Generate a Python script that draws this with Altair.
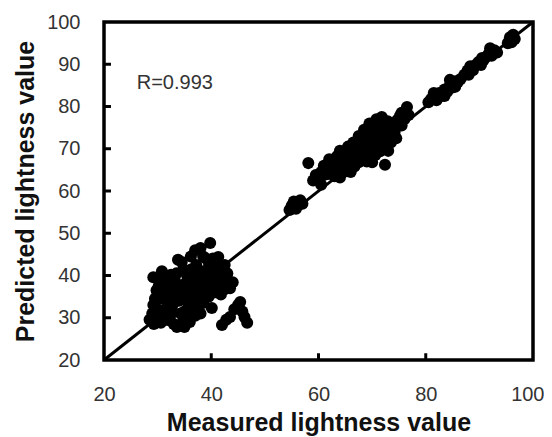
import altair as alt
import pandas as pd

# Lower cluster (measured, predicted)
low_x = [28.5, 29, 29.3, 29.8, 29.2, 30, 29.2, 30.5, 31, 31.5, 30.8, 31.2, 30.6, 31.8, 32.2, 32.5,
         32.8, 33, 33.6, 33.2, 33.8, 33.5, 34, 34.3, 34.5, 34.8, 35, 35.3, 35.5, 35.8, 36, 36.3,
         36.5, 36.8, 37, 37.2, 37.5, 37.8, 38, 38.2, 38.5, 38.8, 39, 39.3, 39.8, 39.6, 40, 40.1,
         40.3, 40.5, 40.8, 41, 41.3, 41.5, 41.8, 42, 42.3, 42.6, 43, 43.5, 44, 42, 42.8, 43.5,
         44.3, 45, 45.4, 45.8, 46.2, 46.7, 32, 33, 36, 35, 37, 38.5, 39.5, 30, 31.5, 32.5,
         29.5, 30.2, 30.8, 31.8, 32.3, 32.8, 33.5, 34, 34.5, 35, 35.5, 36, 36.5, 37, 37.5,
         37, 38, 38.5, 39, 39.5, 40, 40.5, 41, 41.5, 42.5, 43, 38, 36.2, 34.8, 29.8]
low_y = [29.5, 31, 28.5, 30, 33, 32, 39.6, 39.3, 38, 36.5, 34.5, 31, 28.8, 29.5, 33, 35,
         31.5, 28.5, 27.8, 38.9, 43.7, 36.5, 34, 31, 43.2, 29.5, 38, 36, 40, 33, 31, 41.5,
         38.5, 35.5, 46, 42.5, 39.5, 37, 34.5, 41, 44.5, 38.5, 36, 40.5, 47.7, 42.5, 38.5, 32.3,
         44, 36, 40.5, 42.8, 44.4, 38, 35.5, 41, 39, 36.8, 38.5, 37, 38.4, 28.3, 29.5, 30.2,
         32, 33, 33.7, 31.5, 30.2, 28.8, 37, 33.5, 29, 31.5, 32.5, 33.5, 35, 36, 40, 40.2,
         34.5, 37.5, 41, 32.5, 30.2, 38.2, 40.5, 37.5, 35.5, 27.8, 34.2, 37.5, 33, 30.5, 35,
         41, 31, 39.8, 44, 38, 41, 42, 39, 40, 42.5, 40.5, 46.5, 44.5, 41.5, 36.5]

# Upper cluster
up_x = [54.6, 55, 55.4, 55.8, 56.2, 56.6, 55.3, 58.1, 72.4,
        59, 59.5, 60, 60.5, 61, 61.5, 61.8, 62.3, 62.8, 63.2, 63.5, 63.8, 64.2, 64.5, 65, 65.3,
        65.7, 66, 66.3, 66.7, 67, 67.2, 67.5, 67.8, 68, 68.3, 68.5, 68.8, 69, 69.2, 69.5, 69.8,
        70, 70.2, 70.5, 70.6, 70.9, 71.2, 71.5, 71.7, 72, 72.3, 72.6, 72.9, 73.2, 73.5, 73.8,
        74.2, 74.7, 75.2, 75.5, 76, 76.5, 76.8,
        80.5, 81, 81.5, 82, 82.5, 83, 83.5, 84, 84.5, 85, 85.5, 86, 86.5,
        87.2, 87.8, 88.3, 88.8, 89.3, 89.8, 90.3, 90.8, 91.3, 91.8, 92.3, 92.8, 93.3,
        95.3, 95.7, 96, 96.3, 96.6,
        64, 65.5, 66.5, 67.5, 68.5, 69.5, 70.8, 71.8, 62, 63, 64, 66, 69, 70, 73, 74.5,
        60.5, 61, 75.5, 57, 83.5, 85.5, 88, 90.5, 92, 84.5, 81.5]
up_y = [55.5, 56.5, 57.5, 55.8, 56.6, 57.8, 56.2, 66.6, 66.2,
        62.5, 63.8, 62.8, 64.5, 63.8, 65.8, 64, 65, 66.8, 65.2, 68.3, 66.5, 64.8, 67.2, 68.8, 64.7,
        66.5, 69.5, 67.5, 65.8, 70.5, 68.5, 66.8, 71.5, 69.2, 72.5, 67.5, 70.5, 73.5, 68.8, 71.8, 74.5,
        70, 72.8, 75, 68.5, 71.2, 73.8, 69.4, 75.8, 72, 74.5, 70.5, 76.5, 73, 71.5, 75.5,
        74, 76.8, 77.8, 75.5, 77, 79.9, 78,
        81, 81.8, 82.5, 81.5, 83.2, 82.5, 84, 83.5, 85, 84.5, 86, 85.8, 86.5,
        87.5, 88.5, 89.5, 88.6, 89.8, 90.5, 89.8, 91, 91.8, 92.6, 92, 93.3, 92.8,
        95, 96.4, 95.2, 97, 96,
        69.5, 70.5, 71.5, 73, 74.5, 76, 77, 77.5, 67.5, 63.5, 63.2, 64.5, 67, 66.8, 69.5, 72.5,
        61.5, 66, 78.5, 57, 82.5, 84.7, 87.5, 91.5, 93.8, 86.3, 83.2]

line_x = [20, 100]
line_y = [20, 100]

y_tick_values = [30, 40, 50, 60, 70, 80, 90]
x_tick_values = [40, 60, 80]
TICK_LEN_X = 1.3  # data units for y-axis inward ticks
TICK_LEN_Y = 1.6  # data units for x-axis inward ticks

r_label = ["R=0.993"]
r_x = [26.1]
r_y = [84.1]

FONT = "Liberation Sans"

pts = pd.DataFrame({"x": low_x + up_x, "y": low_y + up_y})
line_df = pd.DataFrame({"x": line_x, "y": line_y})
yt = pd.DataFrame({"y": y_tick_values, "x": [20] * len(y_tick_values),
                   "x2": [20 + TICK_LEN_X] * len(y_tick_values)})
xt = pd.DataFrame({"x": x_tick_values, "y": [20] * len(x_tick_values),
                   "y2": [20 + TICK_LEN_Y] * len(x_tick_values)})
txt = pd.DataFrame({"x": r_x, "y": r_y, "t": r_label})

xs = alt.Scale(domain=[20, 100], nice=False, zero=False)
ys = alt.Scale(domain=[20, 100], nice=False, zero=False)

xaxis = alt.Axis(values=[20, 40, 60, 80, 100], title="Measured lightness value",
                 grid=False, domain=False, ticks=False, tickSize=0, labelPadding=24,
                 labelFlush=True, labelFlushOffset=11, labelOverlap=False, labelBound=False,
                 labelFontSize=20, labelFont=FONT, labelColor="#333",
                 titleFontSize=25, titleFont=FONT, titleFontWeight="bold",
                 titleColor="#111", titleY=70, titleBaseline="alphabetic")
yaxis = alt.Axis(values=[20, 30, 40, 50, 60, 70, 80, 90, 100], title="Predicted lightness value",
                 grid=False, domain=False, ticks=False, tickSize=0, labelPadding=24,
                 labelFlush=False, labelOverlap=False, labelBound=False,
                 labelFontSize=20, labelFont=FONT, labelColor="#333",
                 titleFontSize=25, titleFont=FONT, titleFontWeight="bold",
                 titleColor="#111", titleX=-71, titleBaseline="alphabetic")

points = alt.Chart(pts).mark_circle(size=145, color="black", opacity=1).encode(
    x=alt.X("x:Q", scale=xs, axis=xaxis),
    y=alt.Y("y:Q", scale=ys, axis=yaxis),
)
diag = alt.Chart(line_df).mark_line(color="black", strokeWidth=3).encode(
    x=alt.X("x:Q", scale=xs), y=alt.Y("y:Q", scale=ys))
ytk = alt.Chart(yt).mark_rule(color="black", strokeWidth=3).encode(
    x="x:Q", x2="x2:Q", y="y:Q")
xtk = alt.Chart(xt).mark_rule(color="black", strokeWidth=3).encode(
    x="x:Q", y="y:Q", y2="y2:Q")
label = alt.Chart(txt).mark_text(align="left", baseline="alphabetic", fontSize=20,
                                 font=FONT, color="#333").encode(
    x="x:Q", y="y:Q", text="t:N")

chart = alt.layer(diag, points, ytk, xtk, label).properties(
    width=429, height=338,
    autosize=alt.AutoSizeParams(type="none"),
    padding={"left": 96, "top": 14, "right": 11, "bottom": 77},
).configure_view(stroke="black", strokeWidth=3.5)

chart.save("out.html", embed_options={"renderer": "svg", "actions": False})
